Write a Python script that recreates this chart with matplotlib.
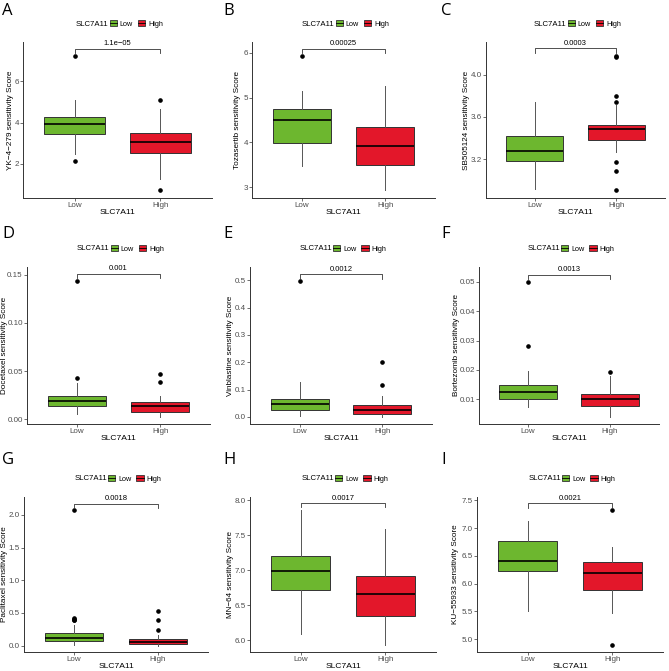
import matplotlib.pyplot as plt
from matplotlib.patches import Patch
from matplotlib.lines import Line2D

plt.rcParams['font.family'] = ['Liberation Sans', 'DejaVu Sans']

groups = ['Low', 'High']
letters = ['A', 'B', 'C', 'D', 'E', 'F', 'G', 'H', 'I']
drugs = ['YK−4−279', 'Tozasertib', 'SB505124', 'Docetaxel', 'Vinblastine',
         'Bortezomib', 'Paclitaxel', 'MN−64', 'KU−55933']
p_values = ['1.1e−05', '0.00025', '0.0003', '0.001', '0.0012', '0.0013',
            '0.0018', '0.0017', '0.0021']

# box statistics (Low group)
low_q1 = [3.45, 3.99, 3.178, 0.0139, 0.027, 0.0099, 0.071, 6.714, 6.222]
low_med = [3.92, 4.51, 3.272, 0.0188, 0.048, 0.0125, 0.117, 6.986, 6.415]
low_q3 = [4.29, 4.74, 3.417, 0.0243, 0.067, 0.0148, 0.193, 7.20, 6.763]
low_lo = [2.49, 3.47, 2.917, 0.0059, 0.004, 0.0074, 0.015, 6.09, 5.50]
low_hi = [5.09, 5.14, 3.74, 0.0372, 0.127, 0.0197, 0.32, 7.867, 7.123]
low_out = [[7.22, 2.12], [5.93], [], [0.1434, 0.0431], [0.4975],
           [0.0501, 0.0283], [2.07, 0.42, 0.41, 0.40, 0.39], [], []]

# High group
high_q1 = [2.52, 3.50, 3.383, 0.0076, 0.012, 0.0077, 0.03, 6.343, 5.892]
high_med = [3.05, 3.92, 3.48, 0.0135, 0.026, 0.0099, 0.06, 6.657, 6.199]
high_q3 = [3.52, 4.34, 3.524, 0.018, 0.042, 0.0119, 0.10, 6.919, 6.396]
high_lo = [1.29, 2.93, 3.27, 0.0024, 0.0, 0.004, 0.0, 5.93, 5.48]
high_hi = [4.66, 5.25, 3.71, 0.024, 0.077, 0.018, 0.17, 7.595, 6.655]
high_out = [[5.09, 0.72], [], [4.18, 4.165, 3.795, 3.745, 3.17, 3.09, 2.904],
            [0.0472, 0.0385], [0.201, 0.118], [0.0191], [0.53, 0.40, 0.24],
            [], [7.326, 4.90]]

bracket_y = [7.57, 6.09, 4.249, 0.1507, 0.522, 0.0524, 2.17, 7.96, 7.446]

y_ticks = [[2, 4, 6], [3, 4, 5, 6], [3.2, 3.6, 4.0], [0, 0.05, 0.10, 0.15],
           [0, 0.1, 0.2, 0.3, 0.4, 0.5], [0.01, 0.02, 0.03, 0.04, 0.05],
           [0, 0.5, 1.0, 1.5, 2.0], [6.0, 6.5, 7.0, 7.5, 8.0],
           [5.0, 5.5, 6.0, 6.5, 7.0, 7.5]]
y_ticklabels = [['2', '4', '6'], ['3', '4', '5', '6'], ['3.2', '3.6', '4.0'],
                ['0.00', '0.05', '0.10', '0.15'],
                ['0.0', '0.1', '0.2', '0.3', '0.4', '0.5'],
                ['0.01', '0.02', '0.03', '0.04', '0.05'],
                ['0.0', '0.5', '1.0', '1.5', '2.0'],
                ['6.0', '6.5', '7.0', '7.5', '8.0'],
                ['5.0', '5.5', '6.0', '6.5', '7.0', '7.5']]
y_limits = [(0.35, 7.9), (2.76, 6.24), (2.83, 4.31), (-0.0049, 0.158),
            (-0.026, 0.549), (0.0015, 0.0551), (-0.097, 2.275),
            (5.83, 8.05), (4.77, 7.56)]

# panel rectangles in pixels: left, top, right, bottom
rects = [(23, 42, 212, 198), (252, 42, 435, 198), (486, 42, 665, 198),
         (27, 267, 210, 424), (250, 267, 432, 424), (479, 267, 659, 424),
         (24, 497, 208, 652), (250, 497, 436, 652), (477, 497, 663, 652)]
# x pixel of the y-axis title centre
ylabel_x = [11, 238, 466, 5, 230, 456, 5, 230, 456]
letter_pos = [(2, 3), (223, 3), (441, 3), (2, 226), (223, 226), (441, 226),
              (2, 452), (223, 452), (441, 452)]

W, H = 669, 671
green = '#6DB72F'
red = '#E3172A'
grey_txt = '#4D4D4D'

fig = plt.figure(figsize=(W / 100, H / 100), dpi=100)

for i in range(9):
    l, t, r, b = rects[i]
    ax = fig.add_axes([l / W, 1 - b / H, (r - l) / W, (b - t) / H])
    stats = [
        dict(med=low_med[i], q1=low_q1[i], q3=low_q3[i], whislo=low_lo[i],
             whishi=low_hi[i], fliers=low_out[i]),
        dict(med=high_med[i], q1=high_q1[i], q3=high_q3[i], whislo=high_lo[i],
             whishi=high_hi[i], fliers=high_out[i]),
    ]
    bp = ax.bxp(stats, positions=[1, 2], widths=0.7, patch_artist=True,
                showcaps=False,
                boxprops=dict(edgecolor='#333333', linewidth=0.7),
                whiskerprops=dict(color='#555555', linewidth=0.7),
                medianprops=dict(color='black', linewidth=1.2),
                flierprops=dict(marker='o', markerfacecolor='black',
                                markeredgecolor='black', markersize=2.3))
    for patch, c in zip(bp['boxes'], [green, red]):
        patch.set_facecolor(c)

    ax.set_xlim(0.4, 2.6)
    ax.set_ylim(*y_limits[i])
    ax.set_xticks([1, 2])
    ax.set_xticklabels(groups)
    ax.set_yticks(y_ticks[i])
    ax.set_yticklabels(y_ticklabels[i])
    ax.tick_params(labelsize=5.8, labelcolor=grey_txt, color='#333333',
                   length=2, width=0.5, pad=1)
    for s in ['top', 'right']:
        ax.spines[s].set_visible(False)
    for s in ['left', 'bottom']:
        ax.spines[s].set_linewidth(0.7)
        ax.spines[s].set_color('#333333')

    hgt = b - t
    wid = r - l
    ax.set_xlabel('SLC7A11', fontsize=6.1)
    ax.xaxis.set_label_coords(0.5, -14 / hgt)
    ax.xaxis.label.set_va('center')
    ax.set_ylabel(drugs[i] + ' sensitivity Score', fontsize=5.9)
    ax.yaxis.set_label_coords((ylabel_x[i] - l) / wid, 0.5)
    ax.yaxis.label.set_va('center')

    # significance bracket
    yb = bracket_y[i]
    drop = 0.027 * (y_limits[i][1] - y_limits[i][0])
    ax.plot([1, 1, 2, 2], [yb - drop, yb, yb, yb - drop], color='#333333',
            lw=0.6)
    ax.text(1.5, yb + drop * 0.4, p_values[i], ha='center', va='bottom',
            fontsize=5.5)

    # legend above the panel
    cx = (l + r) / 2
    ly = t - 18
    fig.text((cx - 9) / W, 1 - ly / H, 'SLC7A11', ha='right', va='center',
             fontsize=5.6)
    handles = [(Patch(facecolor=c, edgecolor='#333333', linewidth=0.6),
                Line2D([], [], color='black', lw=0.6)) for c in [green, red]]
    fig.legend(handles, groups, loc='center left',
               bbox_to_anchor=((cx - 8) / W, 1 - ly / H), ncol=2,
               frameon=False, fontsize=5.2, handlelength=1.0,
               handleheight=0.9, handletextpad=0.4, columnspacing=0.7,
               borderpad=0, borderaxespad=0)

    lx, lyy = letter_pos[i]
    fig.text(lx / W, 1 - lyy / H, letters[i], ha='left', va='top',
             fontsize=12, family=['Open Sans', 'DejaVu Sans'])

fig.savefig('out.png', dpi=100)
